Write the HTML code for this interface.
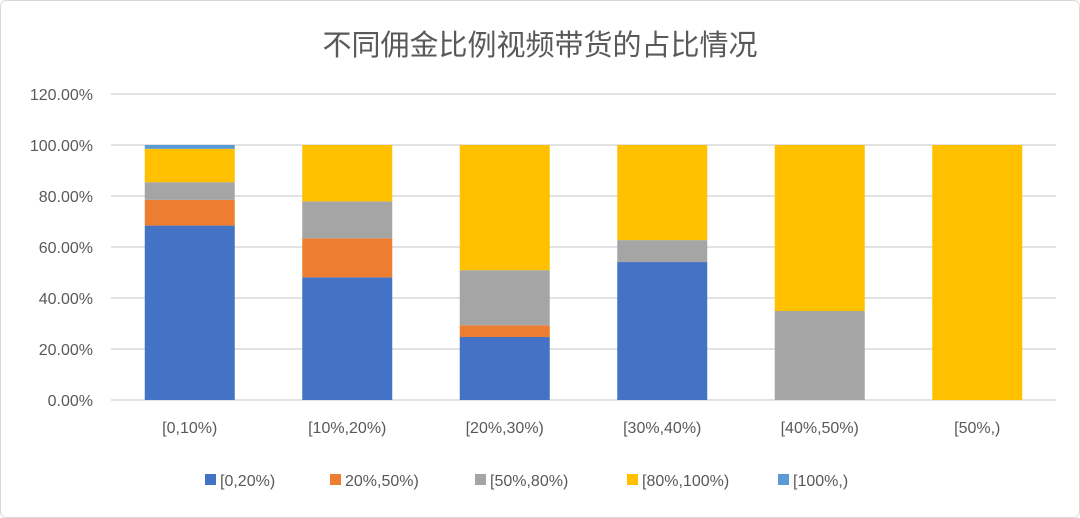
<!DOCTYPE html>
<html><head><meta charset="utf-8"><style>
body{margin:0;background:#fff;font-family:"Liberation Sans","Noto Sans CJK SC",sans-serif}
#wrap{position:relative;width:1080px;height:518px;overflow:hidden}
</style></head><body>
<div id="wrap">
<svg id="chart" width="1080" height="518"></svg>
</div>
<script>
const categories=["[0,10%)","[10%,20%)","[20%,30%)","[30%,40%)","[40%,50%)","[50%,)"];
const seriesNames=["[0,20%)","20%,50%)","[50%,80%)","[80%,100%)","[100%,)"];
const colors=["#4472C4","#ED7D31","#A5A5A5","#FFC000","#5B9BD5"];
const s0=[68.4,48.1,24.7,54.1,0,0];
const s1=[10.1,15.3,4.6,0,0,0];
const s2=[6.9,14.5,21.6,8.6,34.9,0];
const s3=[13.1,22.1,49.1,37.3,65.1,100];
const s4=[1.5,0,0,0,0,0];
const series=[s0,s1,s2,s3,s4];
const yTicks=[0,20,40,60,80,100,120];
const yLabels=["0.00%","20.00%","40.00%","60.00%","80.00%","100.00%","120.00%"];

const NS="http://www.w3.org/2000/svg";
const svg=document.getElementById('chart');
function mk(t,a,p){const e=document.createElementNS(NS,t);for(const k in a)e.setAttribute(k,a[k]);(p||svg).appendChild(e);return e;}
const X0=111,X1=1056,Y0=400,Y100=145;
const y=v=>Y0-(Y0-Y100)*v/100;
const band=(X1-X0)/categories.length;
const x=i=>X0+band*(i+0.5);
const bw=90;

let r=mk('rect',{x:0.5,y:0.5,width:1079,height:517,rx:6,fill:'#fff',stroke:'#d9d9d9'});


let t=mk('text',{x:540,y:55,'text-anchor':'middle','font-size':29,fill:'#595959'});
t.textContent="不同佣金比例视频带货的占比情况";



yTicks.forEach((v,i)=>{
  const g=mk('line',{x1:X0,x2:X1,y1:y(v),y2:y(v),stroke:'#d9d9d9','stroke-width':1.5});
  
  
  const l=mk('text',{x:93,y:y(v)+6,'text-anchor':'end','font-size':16,fill:'#595959'});
  l.textContent=yLabels[i];
  
  
});

categories.forEach((c,i)=>{
  let acc=0;
  series.forEach((s,k)=>{
    const v=s[i];if(v<=0)return;
    const b=mk('rect',{x:x(i)-bw/2,y:y(acc+v),width:bw,height:y(acc)-y(acc+v),fill:colors[k]});
    
    
    acc+=v;
  });
  const l=mk('text',{x:x(i),y:433,'text-anchor':'middle','font-size':16,fill:'#595959'});
  l.textContent=c;
  
  
});

const legX=[205,330,475,627,778];
seriesNames.forEach((n,k)=>{
  const g=mk('g',{});
  
  
  mk('rect',{x:legX[k],y:474,width:11,height:11,fill:colors[k]},g);
  const l=mk('text',{x:legX[k]+15,y:486,'font-size':16,fill:'#595959'},g);
  l.textContent=n;
});
</script>
</body></html>
